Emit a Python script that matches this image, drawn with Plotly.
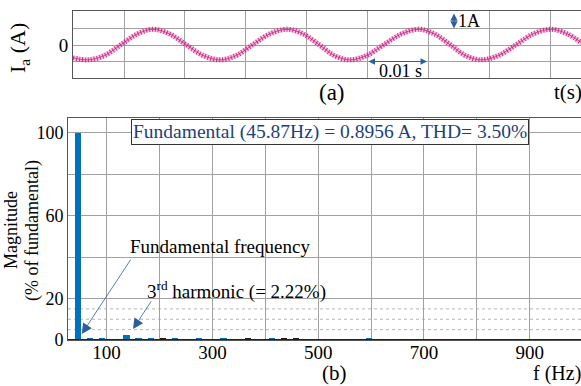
import plotly.graph_objects as go

# ---------------- data ----------------
# (a) phase current waveform
t_s = [0.0, 0.0025, 0.0052, 0.0079, 0.0106, 0.0131, 0.0158, 0.0185, 0.0213, 0.0241,
       0.0268, 0.0295, 0.0323, 0.0351, 0.0377, 0.0403, 0.0428, 0.0454, 0.0482, 0.0510,
       0.0539, 0.0567, 0.0592, 0.0618, 0.0643, 0.0669, 0.0698, 0.0727, 0.0755, 0.0784,
       0.0810, 0.0834]
ia_A = [-0.78, -0.90, -0.63, 0.03, 0.68, 0.95, 0.68, 0.03, -0.63, -0.90,
        -0.63, 0.03, 0.68, 0.95, 0.68, 0.03, -0.63, -0.90, -0.63, 0.03,
        0.68, 0.95, 0.68, 0.03, -0.63, -0.90, -0.63, 0.03, 0.68, 0.95,
        0.68, 0.12]

# (b) harmonic spectrum (% of fundamental)
freq_blue = [45.87, 68.8, 91.7, 137.6, 160.5, 183.5, 229.4, 275.2, 321.1, 412.8, 596.3]
mag_blue = [100, 0.7, 0.8, 2.22, 0.6, 0.7, 0.8, 0.8, 0.8, 0.6, 0.5]
freq_dark = [206.4, 366.9, 435.8, 458.7]
mag_dark = [0.5, 0.5, 0.5, 0.5]

top_grid_t = [0.00836, 0.01836, 0.02836, 0.03836, 0.04836, 0.05836, 0.06836, 0.07836]
top_ticks = [-2, -1, 0, 1, 2]
top_ticktext = ["", "", "0", "", ""]
bot_xticks = [100, 200, 300, 400, 500, 600, 700, 800, 900]
bot_xtext = ["100", "", "300", "", "500", "", "700", "", "900"]
bot_yticks = [0, 20, 40, 60, 80, 100]
bot_ytext = ["0", "20", "", "60", "", "100"]
dotted_levels = [5, 10, 15]

SERIF = "Liberation Serif, Times New Roman, serif"
W, H = 581, 386
NAVY = "#1d3f7c"
ARROW = "#2b5f9e"

fig = go.Figure()

# waveform: a striped band imitating the switching ripple
fig.add_trace(go.Scatter(x=t_s, y=ia_A, mode="lines", line=dict(color="rgba(220,90,165,0.35)", width=5, shape="spline"),
                         xaxis="x", yaxis="y", hoverinfo="skip"))
fig.add_trace(go.Scatter(x=t_s, y=ia_A, mode="lines", line=dict(color="rgba(200,23,127,0.85)", width=5, shape="spline", dash="1px,2px"),
                         xaxis="x", yaxis="y", hoverinfo="skip"))
fig.add_trace(go.Scatter(x=t_s, y=ia_A, mode="lines", line=dict(color="rgba(200,23,127,0.7)", width=1, shape="spline"),
                         xaxis="x", yaxis="y", hoverinfo="skip"))

fig.add_trace(go.Bar(x=freq_blue, y=mag_blue, width=12, marker=dict(color="#0072BD", line=dict(width=0)),
                     xaxis="x2", yaxis="y2"))
fig.add_trace(go.Bar(x=freq_dark, y=mag_dark, width=12, marker=dict(color="#1a1a1a", line=dict(width=0)),
                     xaxis="x2", yaxis="y2"))

def px(x):
    return x / W

def py(y):
    return 1 - y / H

grid = "#a0a0a0"
border = "#555555"

fig.update_layout(
    width=W, height=H, margin=dict(l=0, r=0, t=0, b=0, autoexpand=False),
    paper_bgcolor="white", plot_bgcolor="white", showlegend=False, bargap=0,
    font=dict(family=SERIF, size=18, color="black"),
    xaxis=dict(domain=[px(73), 1.0], range=[0, 0.08328], tickvals=top_grid_t, showticklabels=False,
               showgrid=True, gridcolor=grid, gridwidth=1, zeroline=False, automargin=False,
               showline=True, linecolor=border, linewidth=1, mirror=True, ticks=""),
    yaxis=dict(domain=[py(78), py(11)], range=[-2.0, 2.06], tickvals=top_ticks, ticktext=top_ticktext,
               showgrid=True, gridcolor=grid, gridwidth=1, zeroline=False, automargin=False,
               showline=True, linecolor=border, linewidth=1, ticks="",
               tickfont=dict(family=SERIF, size=19), anchor="x"),
    xaxis2=dict(domain=[px(68), 1.0], range=[27, 997], tickvals=bot_xticks, ticktext=bot_xtext,
                showgrid=True, gridcolor=grid, gridwidth=1, zeroline=False, automargin=False,
                showline=True, linecolor=border, linewidth=1, mirror=True, ticks="",
                tickfont=dict(family=SERIF, size=19), anchor="y2", ticklabelstandoff=-5),
    yaxis2=dict(domain=[py(340), py(118)], range=[0, 107], tickvals=bot_yticks, ticktext=bot_ytext,
                showgrid=True, gridcolor=grid, gridwidth=1, zeroline=False, automargin=False,
                showline=True, linecolor=border, linewidth=1, ticks="",
                tickfont=dict(family=SERIF, size=18), anchor="x2"),
)

shapes = []
for lv in dotted_levels:
    shapes.append(dict(type="line", xref="x2 domain", yref="y2", x0=0, x1=1, y0=lv, y1=lv,
                       line=dict(color="#b5b5b5", width=1, dash="dot"), layer="below"))
# dark baseline of the spectrum
shapes.append(dict(type="line", xref="x2 domain", yref="y2", x0=0, x1=1, y0=0, y1=0,
                   line=dict(color="#222222", width=2)))
fig.update_layout(shapes=shapes)

ann = []

def label(text, x, y, size, **kw):
    d = dict(text=text, x=px(x), y=py(y), xref="paper", yref="paper", showarrow=False,
             xanchor="center", yanchor="middle", font=dict(size=size, color=kw.pop("color", "black")))
    d.update(kw)
    ann.append(d)

# top panel labels
label("I<sub>a</sub> (A)", 19, 48, 22, textangle=-90)
label("(a)", 332, 93, 23)
label("t(s)", 568, 92, 21)
# 1A double arrow
ann.append(dict(x=0.06246, y=1, ax=0.06246, ay=2, xref="x", yref="y", axref="x", ayref="y", text="",
                showarrow=True, arrowhead=2, startarrowhead=2, arrowside="end+start", arrowsize=1.2,
                startarrowsize=1.2, arrowwidth=1.2, arrowcolor=ARROW))
label("1A", 469, 21, 18)
# 0.01 s double arrow
ann.append(dict(x=0.05803, y=-1, ax=0.04820, ay=-1, xref="x", yref="y", axref="x", ayref="y", text="",
                showarrow=True, arrowhead=2, startarrowhead=2, arrowside="end+start", arrowsize=1.3,
                startarrowsize=1.3, arrowwidth=1, arrowcolor=ARROW))
label("0.01 s", 400, 71, 18)

# bottom panel labels
label("Magnitude", 11, 230, 18, textangle=-90)
label("(% of fundamental)", 32, 231, 18, textangle=-90)
label("Fundamental (45.87Hz) = 0.8956 A, THD= 3.50%", 330, 132, 19.5, color=NAVY,
      bgcolor="white", bordercolor="#333333", borderwidth=1, borderpad=1)
label("Fundamental frequency", 220, 246, 19)
label("3<sup>rd</sup> harmonic (= 2.22%)", 236, 290, 19)
ann.append(dict(x=53, y=2.9, xref="x2", yref="y2", ax=50, ay=-76, text="", showarrow=True, arrowhead=2,
                arrowsize=2.6, arrowwidth=0.8, arrowcolor=ARROW))
ann.append(dict(x=150, y=5.3, xref="x2", yref="y2", ax=19, ay=-29, text="", showarrow=True, arrowhead=2,
                arrowsize=2.6, arrowwidth=0.8, arrowcolor=ARROW))
label("(b)", 334, 373, 21)
label("f (Hz)", 557, 373, 20)

fig.update_layout(annotations=ann)

fig.write_html("out.html")
